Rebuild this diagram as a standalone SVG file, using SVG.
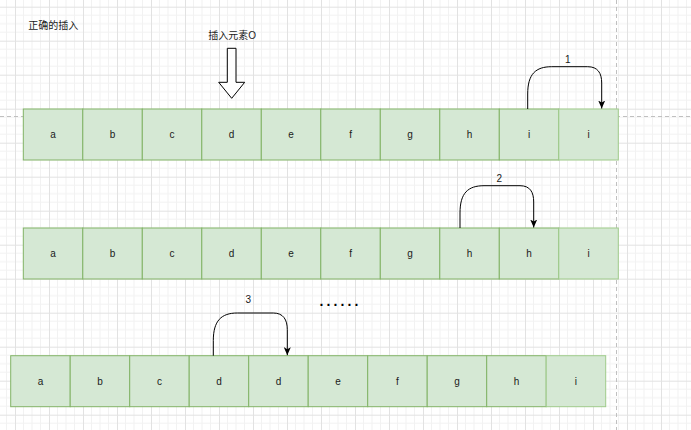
<svg xmlns="http://www.w3.org/2000/svg" width="691" height="430" viewBox="0 0 691 430">
<style>
.cell{fill:#d5e8d4;stroke:#82b366;stroke-width:1}
.cell.last{stroke:#9fcb8a}
.t{font-family:"Liberation Sans",Arial,sans-serif;font-size:10px;fill:#1a1a1a;text-anchor:middle}
.cjk{font-family:"Liberation Sans","Noto Sans CJK SC",sans-serif;font-size:10px;fill:#1a1a1a}
.edge{fill:none;stroke:#000;stroke-width:1;marker-end:url(#arr)}
.pb{stroke:#c0c0c0;stroke-width:1;stroke-dasharray:4 3;fill:none}
</style>
<defs>
<pattern id="grid" patternUnits="userSpaceOnUse" x="15" y="6.7" width="34" height="34">
<rect width="34" height="34" fill="#ffffff"/>
<path d="M8.5,0V34M17,0V34M25.5,0V34M0,8.5H34M0,17H34M0,25.5H34" stroke="#f2f2f2" stroke-width="1"/>
<path d="M0.5,0V34M0,0.5H34" stroke="#e2e2e2" stroke-width="1"/>
</pattern>
<marker id="arr" markerUnits="userSpaceOnUse" viewBox="0 0 8 7" refX="8" refY="3.5" markerWidth="8" markerHeight="7" orient="auto">
<path d="M0,0 L8,3.5 L0,7 L2,3.5 z" fill="#000"/>
</marker>
</defs>
<rect width="691" height="430" fill="url(#grid)"/>
<path class="pb" d="M0,116.5H691M616.5,0V430"/>

<g id="title"><text class="cjk" x="28.3" y="29">正确的插入</text></g>
<g id="insert-label"><text class="cjk" x="208.3" y="38.5">插入元素O</text></g>
<g id="insert-arrow"><polygon points="227.3,48.3 236,48.3 236,82.3 244.7,82.3 231.7,98.3 218.7,82.3 227.3,82.3" fill="#ffffff" stroke="#000" stroke-width="1"/></g>

<g id="row1">
<g id="r1a"><rect class="cell" x="23.3" y="109" width="59.5" height="51"/><text class="t" x="53.05" y="138">a</text></g>
<g id="r1b"><rect class="cell" x="82.8" y="109" width="59.5" height="51"/><text class="t" x="112.55" y="138">b</text></g>
<g id="r1c"><rect class="cell" x="142.3" y="109" width="59.5" height="51"/><text class="t" x="172.05" y="138">c</text></g>
<g id="r1d"><rect class="cell" x="201.8" y="109" width="59.5" height="51"/><text class="t" x="231.55" y="138">d</text></g>
<g id="r1e"><rect class="cell" x="261.3" y="109" width="59.5" height="51"/><text class="t" x="291.05" y="138">e</text></g>
<g id="r1f"><rect class="cell" x="320.8" y="109" width="59.5" height="51"/><text class="t" x="350.55" y="138">f</text></g>
<g id="r1g"><rect class="cell" x="380.3" y="109" width="59.5" height="51"/><text class="t" x="410.05" y="138">g</text></g>
<g id="r1h"><rect class="cell" x="439.8" y="109" width="59.5" height="51"/><text class="t" x="469.55" y="138">h</text></g>
<g id="r1i"><rect class="cell" x="499.3" y="109" width="59.5" height="51"/><text class="t" x="529.05" y="138">i</text></g>
<g id="r1i2"><rect class="cell last" x="558.8" y="109" width="59.5" height="51"/><text class="t" x="588.55" y="138">i</text></g>
</g>

<g id="row2">
<g id="r2a"><rect class="cell" x="23.3" y="228" width="59.5" height="51"/><text class="t" x="53.05" y="257">a</text></g>
<g id="r2b"><rect class="cell" x="82.8" y="228" width="59.5" height="51"/><text class="t" x="112.55" y="257">b</text></g>
<g id="r2c"><rect class="cell" x="142.3" y="228" width="59.5" height="51"/><text class="t" x="172.05" y="257">c</text></g>
<g id="r2d"><rect class="cell" x="201.8" y="228" width="59.5" height="51"/><text class="t" x="231.55" y="257">d</text></g>
<g id="r2e"><rect class="cell" x="261.3" y="228" width="59.5" height="51"/><text class="t" x="291.05" y="257">e</text></g>
<g id="r2f"><rect class="cell" x="320.8" y="228" width="59.5" height="51"/><text class="t" x="350.55" y="257">f</text></g>
<g id="r2g"><rect class="cell" x="380.3" y="228" width="59.5" height="51"/><text class="t" x="410.05" y="257">g</text></g>
<g id="r2h"><rect class="cell" x="439.8" y="228" width="59.5" height="51"/><text class="t" x="469.55" y="257">h</text></g>
<g id="r2h2"><rect class="cell" x="499.3" y="228" width="59.5" height="51"/><text class="t" x="529.05" y="257">h</text></g>
<g id="r2i"><rect class="cell last" x="558.8" y="228" width="59.5" height="51"/><text class="t" x="588.55" y="257">i</text></g>
</g>

<g id="row3">
<g id="r3a"><rect class="cell" x="10.7" y="355.7" width="59.5" height="51"/><text class="t" x="40.45" y="384.7">a</text></g>
<g id="r3b"><rect class="cell" x="70.2" y="355.7" width="59.5" height="51"/><text class="t" x="99.95" y="384.7">b</text></g>
<g id="r3c"><rect class="cell" x="129.7" y="355.7" width="59.5" height="51"/><text class="t" x="159.45" y="384.7">c</text></g>
<g id="r3d"><rect class="cell" x="189.2" y="355.7" width="59.5" height="51"/><text class="t" x="218.95" y="384.7">d</text></g>
<g id="r3d2"><rect class="cell" x="248.7" y="355.7" width="59.5" height="51"/><text class="t" x="278.45" y="384.7">d</text></g>
<g id="r3e"><rect class="cell" x="308.2" y="355.7" width="59.5" height="51"/><text class="t" x="337.95" y="384.7">e</text></g>
<g id="r3f"><rect class="cell" x="367.7" y="355.7" width="59.5" height="51"/><text class="t" x="397.45" y="384.7">f</text></g>
<g id="r3g"><rect class="cell" x="427.2" y="355.7" width="59.5" height="51"/><text class="t" x="456.95" y="384.7">g</text></g>
<g id="r3h"><rect class="cell" x="486.7" y="355.7" width="59.5" height="51"/><text class="t" x="516.45" y="384.7">h</text></g>
<g id="r3i"><rect class="cell last" x="546.2" y="355.7" width="59.5" height="51"/><text class="t" x="575.95" y="384.7">i</text></g>
</g>

<g id="ellipsis"><text x="319.5" y="306" font-family="Liberation Sans,Arial,sans-serif" font-size="14" font-weight="bold" letter-spacing="3.1" fill="#000">......</text></g>

<g id="connectors">
<path class="edge" transform="translate(527.7,109)" d="M0,0 L0,-15 C0,-35 8,-42.3 24,-42.3 L60,-42.3 C70,-42.3 74,-36 74,-26 L74,-0.5"/>
<text class="t" x="567.7" y="63">1</text>
<path class="edge" transform="translate(460,228)" d="M0,0 L0,-15 C0,-35 8,-42.3 24,-42.3 L60,-42.3 C70,-42.3 73.7,-36 73.7,-26 L73.7,-0.5"/>
<text class="t" x="499.3" y="182">2</text>
<path class="edge" transform="translate(213.3,355.7)" d="M0,0 L0,-15 C0,-35 8,-42.7 24,-42.7 L60,-42.7 C70,-42.7 74,-36 74,-26 L74,-0.5"/>
<text class="t" x="248.3" y="303">3</text>
</g>
</svg>
